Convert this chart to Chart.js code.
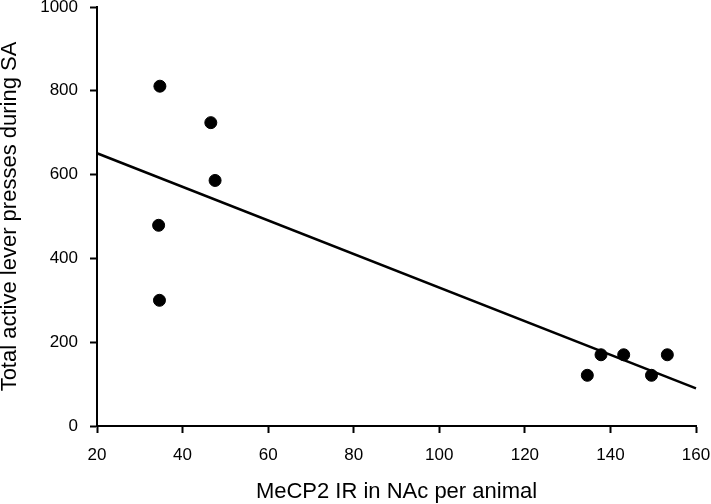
<!DOCTYPE html>
<html>
<head>
<meta charset="utf-8">
<script src="https://cdn.jsdelivr.net/npm/chart.js@4"></script>
<style>
    body { margin: 0; background: #fff; }
    #wrap { width: 711px; height: 504px; }
</style>
</head>
<body>
<div id="wrap"><canvas id="scatter-chart" width="711" height="504"></canvas></div>
<script>
const mecp2 = [34.7, 46.6, 47.6, 34.4, 34.6, 134.6, 137.8, 143.1, 149.6, 153.3];
const leverPresses = [811, 724, 586, 479, 300, 121, 170, 170, 121, 170];
const fitX = [20, 160];
const fitY = [651, 90];
const xTicks = [20, 40, 60, 80, 100, 120, 140, 160];
const yTicks = [0, 200, 400, 600, 800, 1000];

document.addEventListener('DOMContentLoaded', function () {
    const ctx = document.getElementById('scatter-chart');
    const family = "'Liberation Sans', Arial, sans-serif";
    const tickFont = { family: family, size: 17 };
    const titleFont = { family: family, size: 22 };

    new Chart(ctx, {
        type: 'scatter',
        data: {
            datasets: [{
                label: 'Animals',
                data: mecp2.map((x, i) => ({ x: x, y: leverPresses[i] })),
                backgroundColor: '#000',
                borderColor: '#000',
                pointRadius: 6,
                pointHoverRadius: 6,
                clip: false
            }, {
                type: 'line',
                label: 'Fit',
                data: fitX.map((x, i) => ({ x: x, y: fitY[i] })),
                borderColor: '#000',
                borderWidth: 2.5,
                pointRadius: 0,
                fill: false,
                clip: false
            }]
        },
        options: {
            responsive: false,
            animation: false,
            layout: { padding: { top: 6, right: 15, left: 0, bottom: 0 } },
            plugins: {
                legend: { display: false },
                tooltip: { enabled: false }
            },
            scales: {
                x: {
                    type: 'linear',
                    min: 20,
                    max: 160,
                    afterBuildTicks: scale => { scale.ticks = xTicks.map(v => ({ value: v })); },
                    afterFit: scale => {
                        scale.height = 78;
                        scale.paddingLeft = 0;
                        scale.paddingRight = 0;
                    },
                    border: { display: true, color: '#000', width: 2 },
                    grid: { drawOnChartArea: false, drawTicks: true, tickLength: 7, tickWidth: 2, tickColor: '#000' },
                    ticks: { color: '#000', font: tickFont, padding: 12, maxRotation: 0, callback: v => String(v) },
                    title: {
                        display: true,
                        text: 'MeCP2 IR in NAc per animal',
                        color: '#000',
                        font: titleFont,
                        padding: { top: 0, bottom: -1 }
                    }
                },
                y: {
                    type: 'linear',
                    min: 0,
                    max: 1000,
                    afterBuildTicks: scale => { scale.ticks = yTicks.map(v => ({ value: v })); },
                    afterFit: scale => {
                        scale.width = 97;
                        scale.paddingTop = 0;
                        scale.paddingBottom = 0;
                    },
                    border: { display: true, color: '#000', width: 2 },
                    grid: { drawOnChartArea: false, drawTicks: true, tickLength: 7, tickWidth: 2, tickColor: '#000' },
                    ticks: { color: '#000', font: tickFont, padding: 12, callback: v => String(v) },
                    title: {
                        display: true,
                        text: 'Total active lever presses during SA',
                        color: '#000',
                        font: titleFont,
                        padding: { top: -3, bottom: 0 }
                    }
                }
            }
        }
    });
});
</script>
</body>
</html>
